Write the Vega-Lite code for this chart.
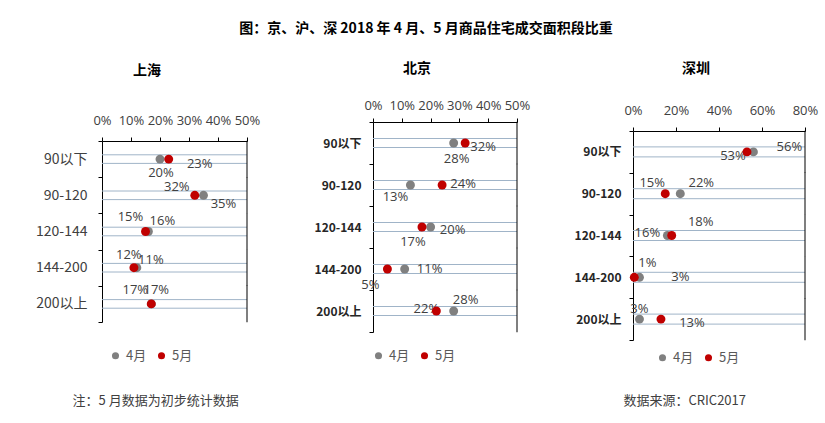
{
"$schema": "https://vega.github.io/schema/vega-lite/v6.json",
"padding": {"left": 34, "top": 22, "right": 2, "bottom": 2},
"config": {"font": "Noto Sans CJK SC", "view": {"stroke": null}, "text": {"font": "Open Sans", "fontSize": 13, "color": "#404040", "baseline": "middle", "align": "center"}},
"title": {"text": "图：京、沪、深 2018 年 4 月、5 月商品住宅成交面积段比重", "fontSize": 14, "fontWeight": "bold", "color": "#000000", "font": "Noto Sans CJK SC", "anchor": "middle", "offset": 26},
"data": {"values": [
{"city": "上海", "cat": "90以下", "m": "4月", "v": 0.20},
{"city": "上海", "cat": "90以下", "m": "5月", "v": 0.23},
{"city": "上海", "cat": "90-120", "m": "4月", "v": 0.35},
{"city": "上海", "cat": "90-120", "m": "5月", "v": 0.32},
{"city": "上海", "cat": "120-144", "m": "4月", "v": 0.16},
{"city": "上海", "cat": "120-144", "m": "5月", "v": 0.15},
{"city": "上海", "cat": "144-200", "m": "4月", "v": 0.12},
{"city": "上海", "cat": "144-200", "m": "5月", "v": 0.11},
{"city": "上海", "cat": "200以上", "m": "4月", "v": 0.17},
{"city": "上海", "cat": "200以上", "m": "5月", "v": 0.17},
{"city": "北京", "cat": "90以下", "m": "4月", "v": 0.28},
{"city": "北京", "cat": "90以下", "m": "5月", "v": 0.32},
{"city": "北京", "cat": "90-120", "m": "4月", "v": 0.13},
{"city": "北京", "cat": "90-120", "m": "5月", "v": 0.24},
{"city": "北京", "cat": "120-144", "m": "4月", "v": 0.20},
{"city": "北京", "cat": "120-144", "m": "5月", "v": 0.17},
{"city": "北京", "cat": "144-200", "m": "4月", "v": 0.11},
{"city": "北京", "cat": "144-200", "m": "5月", "v": 0.05},
{"city": "北京", "cat": "200以上", "m": "4月", "v": 0.28},
{"city": "北京", "cat": "200以上", "m": "5月", "v": 0.22},
{"city": "深圳", "cat": "90以下", "m": "4月", "v": 0.56},
{"city": "深圳", "cat": "90以下", "m": "5月", "v": 0.53},
{"city": "深圳", "cat": "90-120", "m": "4月", "v": 0.22},
{"city": "深圳", "cat": "90-120", "m": "5月", "v": 0.15},
{"city": "深圳", "cat": "120-144", "m": "4月", "v": 0.16},
{"city": "深圳", "cat": "120-144", "m": "5月", "v": 0.18},
{"city": "深圳", "cat": "144-200", "m": "4月", "v": 0.03},
{"city": "深圳", "cat": "144-200", "m": "5月", "v": 0.006},
{"city": "深圳", "cat": "200以上", "m": "4月", "v": 0.03},
{"city": "深圳", "cat": "200以上", "m": "5月", "v": 0.13}
]},
"spacing": 44,
"resolve": {"scale": {"color": "independent"}, "legend": {"color": "independent"}},
"hconcat": [
{
"width": 145, "height": 200,
"title": {"text": "上海", "offset": 36, "frame": "bounds", "anchor": "middle", "fontSize": 14, "fontWeight": "bold", "color": "#000000", "font": "Noto Sans CJK SC"},
"transform": [{"filter": "datum.city === '上海'"}],
"encoding": {"y": {"field": "cat", "type": "nominal", "sort": ["90以下", "90-120", "120-144", "144-200", "200以上"], "scale": {"paddingInner": 0, "paddingOuter": 0, "rangeMin": 19}, "axis": {"title": null, "tickBand": "extent", "domainColor": "#000000", "tickColor": "#000000", "tickSize": 4, "labelPadding": 11, "labelFontSize": 14, "labelColor": "#404040", "labelFont": "Noto Sans CJK SC", "minExtent": 68, "maxExtent": 68, "grid": false}}},
"resolve": {"axis": {"x": "independent"}},
"layer": [
{"transform": [{"filter": "datum.m === '4月'"}], "mark": {"type": "rule", "yOffset": -4.3, "color": "#a0b4c8"}, "encoding": {"x": {"datum": 0, "type": "quantitative", "scale": {"domain": [0, 0.5]}, "axis": {"orient": "bottom", "labels": false, "ticks": false, "domain": false, "grid": false, "title": "注：5 月数据为初步统计数据", "titleX": -30, "titleY": 78, "titleAlign": "left", "titleBaseline": "middle", "titleFontSize": 13, "titleFontWeight": "normal", "titleColor": "#404040", "titleFont": "Noto Sans CJK SC"}}, "x2": {"datum": 0.5}}},
{"transform": [{"filter": "datum.m === '4月'"}], "mark": {"type": "rule", "yOffset": 4.3, "color": "#a0b4c8"}, "encoding": {"x": {"datum": 0, "type": "quantitative", "scale": {"domain": [0, 0.5]}, "axis": null}, "x2": {"datum": 0.5}}},
{"transform": [{"filter": "datum.m === '4月'"}], "mark": {"type": "tick", "color": "#000000", "opacity": 1, "thickness": 1, "size": 36.6, "orient": "vertical"}, "encoding": {"x": {"datum": 0.5, "type": "quantitative", "scale": {"domain": [0, 0.5]}, "axis": null}}},
{"transform": [{"filter": "datum.cat === '90以下' && datum.m === '4月'"}], "mark": {"type": "text", "dx": 1, "dy": 14}, "encoding": {"x": {"field": "v", "type": "quantitative", "scale": {"domain": [0, 0.5]}, "axis": null}, "text": {"field": "v", "type": "quantitative", "format": ".0%"}}},
{"transform": [{"filter": "datum.cat === '90以下' && datum.m === '5月'"}], "mark": {"type": "text", "dx": 31, "dy": 5}, "encoding": {"x": {"field": "v", "type": "quantitative", "scale": {"domain": [0, 0.5]}, "axis": null}, "text": {"field": "v", "type": "quantitative", "format": ".0%"}}},
{"transform": [{"filter": "datum.cat === '90-120' && datum.m === '4月'"}], "mark": {"type": "text", "dx": 20, "dy": 9}, "encoding": {"x": {"field": "v", "type": "quantitative", "scale": {"domain": [0, 0.5]}, "axis": null}, "text": {"field": "v", "type": "quantitative", "format": ".0%"}}},
{"transform": [{"filter": "datum.cat === '90-120' && datum.m === '5月'"}], "mark": {"type": "text", "dx": -18, "dy": -8}, "encoding": {"x": {"field": "v", "type": "quantitative", "scale": {"domain": [0, 0.5]}, "axis": null}, "text": {"field": "v", "type": "quantitative", "format": ".0%"}}},
{"transform": [{"filter": "datum.cat === '120-144' && datum.m === '4月'"}], "mark": {"type": "text", "dx": 14, "dy": -11}, "encoding": {"x": {"field": "v", "type": "quantitative", "scale": {"domain": [0, 0.5]}, "axis": null}, "text": {"field": "v", "type": "quantitative", "format": ".0%"}}},
{"transform": [{"filter": "datum.cat === '120-144' && datum.m === '5月'"}], "mark": {"type": "text", "dx": -15, "dy": -15}, "encoding": {"x": {"field": "v", "type": "quantitative", "scale": {"domain": [0, 0.5]}, "axis": null}, "text": {"field": "v", "type": "quantitative", "format": ".0%"}}},
{"transform": [{"filter": "datum.cat === '144-200' && datum.m === '4月'"}], "mark": {"type": "text", "dx": -8, "dy": -13}, "encoding": {"x": {"field": "v", "type": "quantitative", "scale": {"domain": [0, 0.5]}, "axis": null}, "text": {"field": "v", "type": "quantitative", "format": ".0%"}}},
{"transform": [{"filter": "datum.cat === '144-200' && datum.m === '5月'"}], "mark": {"type": "text", "dx": 17, "dy": -8}, "encoding": {"x": {"field": "v", "type": "quantitative", "scale": {"domain": [0, 0.5]}, "axis": null}, "text": {"field": "v", "type": "quantitative", "format": ".0%"}}},
{"transform": [{"filter": "datum.cat === '200以上' && datum.m === '4月'"}], "mark": {"type": "text", "dx": -16, "dy": -14}, "encoding": {"x": {"field": "v", "type": "quantitative", "scale": {"domain": [0, 0.5]}, "axis": null}, "text": {"field": "v", "type": "quantitative", "format": ".0%"}}},
{"transform": [{"filter": "datum.cat === '200以上' && datum.m === '5月'"}], "mark": {"type": "text", "dx": 5, "dy": -14}, "encoding": {"x": {"field": "v", "type": "quantitative", "scale": {"domain": [0, 0.5]}, "axis": null}, "text": {"field": "v", "type": "quantitative", "format": ".0%"}}},
{"mark": {"type": "circle", "size": 80, "opacity": 1}, "encoding": {
"x": {"field": "v", "type": "quantitative", "scale": {"domain": [0, 0.5]}, "axis": {"orient": "top", "offset": -19, "values": [0, 0.1, 0.2, 0.3, 0.4, 0.5], "format": ".0%", "title": null, "grid": false, "domainColor": "#000000", "tickColor": "#000000", "tickSize": 4, "labelPadding": 10, "labelFont": "Open Sans", "labelFontSize": 13, "labelColor": "#404040", "labelOverlap": false, "labelFlush": false, "labelBound": false}},
"color": {"field": "m", "type": "nominal", "scale": {"domain": ["4月", "5月"], "range": ["#808080", "#c00000"]}, "legend": {"title": null, "orient": "none", "legendX": 7, "legendY": 227, "direction": "horizontal", "symbolType": "circle", "symbolSize": 50, "symbolStrokeWidth": 0, "labelFontSize": 13, "labelColor": "#595959", "labelFont": "Noto Sans CJK SC", "columnPadding": 8, "labelOffset": 4, "padding": 0}}}}
]
},
{
"width": 144, "height": 210,
"title": {"text": "北京", "offset": 23, "frame": "bounds", "anchor": "middle", "fontSize": 14, "fontWeight": "bold", "color": "#000000", "font": "Noto Sans CJK SC"},
"transform": [{"filter": "datum.city === '北京'"}],
"encoding": {"y": {"field": "cat", "type": "nominal", "sort": ["90以下", "90-120", "120-144", "144-200", "200以上"], "scale": {"paddingInner": 0, "paddingOuter": 0}, "axis": {"title": null, "tickBand": "extent", "domainColor": "#000000", "tickColor": "#000000", "tickSize": 4, "labelPadding": 8, "labelFontSize": 12, "labelFontWeight": "bold", "labelColor": "#262626", "labelFont": "Noto Sans CJK SC", "minExtent": 69, "maxExtent": 69, "grid": false}}},
"resolve": {"axis": {"x": "independent"}},
"layer": [
{"transform": [{"filter": "datum.m === '4月'"}], "mark": {"type": "rule", "yOffset": -4.5, "color": "#a0b4c8"}, "encoding": {"x": {"datum": 0, "type": "quantitative", "scale": {"domain": [0, 0.5]}, "axis": null}, "x2": {"datum": 0.5}}},
{"transform": [{"filter": "datum.m === '4月'"}], "mark": {"type": "rule", "yOffset": 4.5, "color": "#a0b4c8"}, "encoding": {"x": {"datum": 0, "type": "quantitative", "scale": {"domain": [0, 0.5]}, "axis": null}, "x2": {"datum": 0.5}}},
{"transform": [{"filter": "datum.m === '4月'"}], "mark": {"type": "tick", "color": "#000000", "opacity": 1, "thickness": 1, "size": 42.4, "orient": "vertical"}, "encoding": {"x": {"datum": 0.5, "type": "quantitative", "scale": {"domain": [0, 0.5]}, "axis": null}}},
{"transform": [{"filter": "datum.cat === '90以下' && datum.m === '4月'"}], "mark": {"type": "text", "dx": 3, "dy": 16}, "encoding": {"x": {"field": "v", "type": "quantitative", "scale": {"domain": [0, 0.5]}, "axis": null}, "text": {"field": "v", "type": "quantitative", "format": ".0%"}}},
{"transform": [{"filter": "datum.cat === '90以下' && datum.m === '5月'"}], "mark": {"type": "text", "dx": 18, "dy": 4}, "encoding": {"x": {"field": "v", "type": "quantitative", "scale": {"domain": [0, 0.5]}, "axis": null}, "text": {"field": "v", "type": "quantitative", "format": ".0%"}}},
{"transform": [{"filter": "datum.cat === '90-120' && datum.m === '4月'"}], "mark": {"type": "text", "dx": -15, "dy": 12}, "encoding": {"x": {"field": "v", "type": "quantitative", "scale": {"domain": [0, 0.5]}, "axis": null}, "text": {"field": "v", "type": "quantitative", "format": ".0%"}}},
{"transform": [{"filter": "datum.cat === '90-120' && datum.m === '5月'"}], "mark": {"type": "text", "dx": 21, "dy": -1}, "encoding": {"x": {"field": "v", "type": "quantitative", "scale": {"domain": [0, 0.5]}, "axis": null}, "text": {"field": "v", "type": "quantitative", "format": ".0%"}}},
{"transform": [{"filter": "datum.cat === '120-144' && datum.m === '4月'"}], "mark": {"type": "text", "dx": 22, "dy": 3}, "encoding": {"x": {"field": "v", "type": "quantitative", "scale": {"domain": [0, 0.5]}, "axis": null}, "text": {"field": "v", "type": "quantitative", "format": ".0%"}}},
{"transform": [{"filter": "datum.cat === '120-144' && datum.m === '5月'"}], "mark": {"type": "text", "dx": -9, "dy": 15}, "encoding": {"x": {"field": "v", "type": "quantitative", "scale": {"domain": [0, 0.5]}, "axis": null}, "text": {"field": "v", "type": "quantitative", "format": ".0%"}}},
{"transform": [{"filter": "datum.cat === '144-200' && datum.m === '4月'"}], "mark": {"type": "text", "dx": 25, "dy": 0}, "encoding": {"x": {"field": "v", "type": "quantitative", "scale": {"domain": [0, 0.5]}, "axis": null}, "text": {"field": "v", "type": "quantitative", "format": ".0%"}}},
{"transform": [{"filter": "datum.cat === '144-200' && datum.m === '5月'"}], "mark": {"type": "text", "dx": -17, "dy": 16}, "encoding": {"x": {"field": "v", "type": "quantitative", "scale": {"domain": [0, 0.5]}, "axis": null}, "text": {"field": "v", "type": "quantitative", "format": ".0%"}}},
{"transform": [{"filter": "datum.cat === '200以上' && datum.m === '4月'"}], "mark": {"type": "text", "dx": 12, "dy": -11}, "encoding": {"x": {"field": "v", "type": "quantitative", "scale": {"domain": [0, 0.5]}, "axis": null}, "text": {"field": "v", "type": "quantitative", "format": ".0%"}}},
{"transform": [{"filter": "datum.cat === '200以上' && datum.m === '5月'"}], "mark": {"type": "text", "dx": -10, "dy": -2}, "encoding": {"x": {"field": "v", "type": "quantitative", "scale": {"domain": [0, 0.5]}, "axis": null}, "text": {"field": "v", "type": "quantitative", "format": ".0%"}}},
{"mark": {"type": "circle", "size": 80, "opacity": 1}, "encoding": {
"x": {"field": "v", "type": "quantitative", "scale": {"domain": [0, 0.5]}, "axis": {"orient": "top", "values": [0, 0.1, 0.2, 0.3, 0.4, 0.5], "format": ".0%", "title": null, "grid": false, "domainColor": "#000000", "tickColor": "#000000", "tickSize": 4, "labelPadding": 6, "labelFont": "Open Sans", "labelFontSize": 13, "labelColor": "#404040", "labelOverlap": false, "labelFlush": false, "labelBound": false}},
"color": {"field": "m", "type": "nominal", "scale": {"domain": ["4月", "5月"], "range": ["#808080", "#c00000"]}, "legend": {"title": null, "orient": "none", "legendX": -1, "legendY": 227, "direction": "horizontal", "symbolType": "circle", "symbolSize": 50, "symbolStrokeWidth": 0, "labelFontSize": 13, "labelColor": "#595959", "labelFont": "Noto Sans CJK SC", "columnPadding": 8, "labelOffset": 4, "padding": 0}}}}
]
},
{
"width": 172, "height": 218,
"title": {"text": "深圳", "offset": 28, "frame": "bounds", "anchor": "middle", "fontSize": 14, "fontWeight": "bold", "color": "#000000", "font": "Noto Sans CJK SC"},
"transform": [{"filter": "datum.city === '深圳'"}],
"encoding": {"y": {"field": "cat", "type": "nominal", "sort": ["90以下", "90-120", "120-144", "144-200", "200以上"], "scale": {"paddingInner": 0, "paddingOuter": 0, "rangeMin": 9}, "axis": {"title": null, "tickBand": "extent", "domainColor": "#000000", "tickColor": "#000000", "tickSize": 4, "labelPadding": 8, "labelFontSize": 12, "labelFontWeight": "bold", "labelColor": "#262626", "labelFont": "Noto Sans CJK SC", "minExtent": 58, "maxExtent": 58, "grid": false}}},
"resolve": {"axis": {"x": "independent"}},
"layer": [
{"transform": [{"filter": "datum.m === '4月'"}], "mark": {"type": "rule", "yOffset": -5, "color": "#a0b4c8"}, "encoding": {"x": {"datum": 0, "type": "quantitative", "scale": {"domain": [0, 0.8]}, "axis": {"orient": "bottom", "labels": false, "ticks": false, "domain": false, "grid": false, "title": "数据来源：CRIC2017", "titleX": -10, "titleY": 60, "titleAlign": "left", "titleBaseline": "middle", "titleFontSize": 13, "titleFontWeight": "normal", "titleColor": "#404040", "titleFont": "Noto Sans CJK SC"}}, "x2": {"datum": 0.8}}},
{"transform": [{"filter": "datum.m === '4月'"}], "mark": {"type": "rule", "yOffset": 5, "color": "#a0b4c8"}, "encoding": {"x": {"datum": 0, "type": "quantitative", "scale": {"domain": [0, 0.8]}, "axis": null}, "x2": {"datum": 0.8}}},
{"transform": [{"filter": "datum.m === '4月'"}], "mark": {"type": "tick", "color": "#000000", "opacity": 1, "thickness": 1, "size": 42.2, "orient": "vertical"}, "encoding": {"x": {"datum": 0.8, "type": "quantitative", "scale": {"domain": [0, 0.8]}, "axis": null}}},
{"transform": [{"filter": "datum.cat === '90以下' && datum.m === '4月'"}], "mark": {"type": "text", "dx": 36, "dy": -5}, "encoding": {"x": {"field": "v", "type": "quantitative", "scale": {"domain": [0, 0.8]}, "axis": null}, "text": {"field": "v", "type": "quantitative", "format": ".0%"}}},
{"transform": [{"filter": "datum.cat === '90以下' && datum.m === '5月'"}], "mark": {"type": "text", "dx": -14, "dy": 4}, "encoding": {"x": {"field": "v", "type": "quantitative", "scale": {"domain": [0, 0.8]}, "axis": null}, "text": {"field": "v", "type": "quantitative", "format": ".0%"}}},
{"transform": [{"filter": "datum.cat === '90-120' && datum.m === '4月'"}], "mark": {"type": "text", "dx": 21, "dy": -11}, "encoding": {"x": {"field": "v", "type": "quantitative", "scale": {"domain": [0, 0.8]}, "axis": null}, "text": {"field": "v", "type": "quantitative", "format": ".0%"}}},
{"transform": [{"filter": "datum.cat === '90-120' && datum.m === '5月'"}], "mark": {"type": "text", "dx": -13, "dy": -11}, "encoding": {"x": {"field": "v", "type": "quantitative", "scale": {"domain": [0, 0.8]}, "axis": null}, "text": {"field": "v", "type": "quantitative", "format": ".0%"}}},
{"transform": [{"filter": "datum.cat === '120-144' && datum.m === '4月'"}], "mark": {"type": "text", "dx": -20, "dy": -3}, "encoding": {"x": {"field": "v", "type": "quantitative", "scale": {"domain": [0, 0.8]}, "axis": null}, "text": {"field": "v", "type": "quantitative", "format": ".0%"}}},
{"transform": [{"filter": "datum.cat === '120-144' && datum.m === '5月'"}], "mark": {"type": "text", "dx": 29, "dy": -14}, "encoding": {"x": {"field": "v", "type": "quantitative", "scale": {"domain": [0, 0.8]}, "axis": null}, "text": {"field": "v", "type": "quantitative", "format": ".0%"}}},
{"transform": [{"filter": "datum.cat === '144-200' && datum.m === '4月'"}], "mark": {"type": "text", "dx": 41, "dy": 0}, "encoding": {"x": {"field": "v", "type": "quantitative", "scale": {"domain": [0, 0.8]}, "axis": null}, "text": {"field": "v", "type": "quantitative", "format": ".0%"}}},
{"transform": [{"filter": "datum.cat === '144-200' && datum.m === '5月'"}], "mark": {"type": "text", "dx": 13, "dy": -14}, "encoding": {"x": {"field": "v", "type": "quantitative", "scale": {"domain": [0, 0.8]}, "axis": null}, "text": {"field": "v", "type": "quantitative", "format": ".0%"}}},
{"transform": [{"filter": "datum.cat === '200以上' && datum.m === '4月'"}], "mark": {"type": "text", "dx": 0, "dy": -10}, "encoding": {"x": {"field": "v", "type": "quantitative", "scale": {"domain": [0, 0.8]}, "axis": null}, "text": {"field": "v", "type": "quantitative", "format": ".0%"}}},
{"transform": [{"filter": "datum.cat === '200以上' && datum.m === '5月'"}], "mark": {"type": "text", "dx": 31, "dy": 4}, "encoding": {"x": {"field": "v", "type": "quantitative", "scale": {"domain": [0, 0.8]}, "axis": null}, "text": {"field": "v", "type": "quantitative", "format": ".0%"}}},
{"mark": {"type": "circle", "size": 80, "opacity": 1}, "encoding": {
"x": {"field": "v", "type": "quantitative", "scale": {"domain": [0, 0.8]}, "axis": {"orient": "top", "offset": -9, "values": [0, 0.2, 0.4, 0.6, 0.8], "format": ".0%", "title": null, "grid": false, "domainColor": "#000000", "tickColor": "#000000", "tickSize": 4, "labelPadding": 10, "labelFont": "Open Sans", "labelFontSize": 13, "labelColor": "#404040", "labelOverlap": false, "labelFlush": false, "labelBound": false}},
"color": {"field": "m", "type": "nominal", "scale": {"domain": ["4月", "5月"], "range": ["#808080", "#c00000"]}, "legend": {"title": null, "orient": "none", "legendX": 23, "legendY": 229, "direction": "horizontal", "symbolType": "circle", "symbolSize": 50, "symbolStrokeWidth": 0, "labelFontSize": 13, "labelColor": "#595959", "labelFont": "Noto Sans CJK SC", "columnPadding": 8, "labelOffset": 4, "padding": 0}}}}
]
}
]
}
